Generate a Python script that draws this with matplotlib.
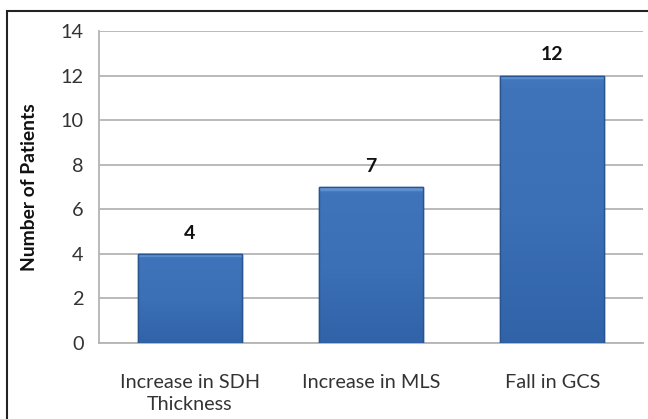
import numpy as np
import matplotlib
matplotlib.use("Agg")
import matplotlib.pyplot as plt
from matplotlib.patches import Rectangle
from matplotlib.colors import LinearSegmentedColormap

plt.rcParams["font.family"] = ["Lato", "DejaVu Sans"]

categories = ["Increase in SDH\nThickness", "Increase in MLS", "Fall in GCS"]
patients = [4, 7, 12]
yticks = [0, 2, 4, 6, 8, 10, 12, 14]

fig = plt.figure(figsize=(6.48, 4.19), dpi=100)
ax = fig.add_axes([0.1528, 0.1814, 0.8395, 0.7446])

# outer frame (only top/left edges show in the crop)
fig.patches.append(Rectangle((0.0108, -0.1), 1.2, 0.1 + 0.974, transform=fig.transFigure,
                             fill=False, ec="#222222", lw=1.5))

x = range(len(categories))
bars = ax.bar(x, patients, width=0.575, color="#3c70b6", edgecolor="#2a5490", lw=1.0, zorder=3)
# bevel-ish vertical gradient clipped to each bar, fixed-height light band on top
cm = LinearSegmentedColormap.from_list("bev", ["#3063a8", "#3b6fb6", "#3f74bb", "#6d9fdc"])
for b in bars:
    x0, w, h = b.get_x(), b.get_width(), b.get_height()
    t = np.linspace(0, 1, 512).reshape(-1, 1)
    band = 1 - 0.18 / h
    grad = np.where(t > band, 0.85 + 0.15 * (t - band) / (1 - band), t * 0.7)
    im = ax.imshow(grad, cmap=cm, vmin=0, vmax=1, extent=[x0, x0 + w, 0, h], origin="lower",
                   aspect="auto", zorder=3.5)
    im.set_clip_path(b)
    ax.add_patch(Rectangle((x0, 0), w, h, fill=False, ec="#2a5490", lw=1.0, zorder=4))
ax.set_aspect("auto")

for b, v in zip(bars, patients):
    ax.annotate(str(v), (b.get_x() + b.get_width() / 2, v), xytext=(0, 15), textcoords="offset points",
                ha="center", va="center", fontsize=14, fontweight="bold", color="#111111")

ax.set_xlim(-0.5, len(categories) - 0.5)
ax.set_ylim(0, 14)
ax.set_yticks(yticks)
ax.yaxis.grid(True, color="#b4b4b4", lw=1.3, zorder=0)
ax.set_axisbelow(True)
for s in ["top", "right"]:
    ax.spines[s].set_visible(False)
for s in ["left", "bottom"]:
    ax.spines[s].set_color("#b4b4b4")
    ax.spines[s].set_linewidth(1.3)
ax.tick_params(axis="y", length=0, pad=11, labelsize=14.3, labelcolor="#333333")
ax.tick_params(axis="x", length=0, pad=22, labelsize=14.3, labelcolor="#333333")
ax.set_xticks(list(x))
ax.set_xticklabels(categories, linespacing=1.4)
ax.set_ylabel("Number of Patients", fontsize=13.9, fontweight="bold", color="#111111", labelpad=16)

fig.savefig("out.png", dpi=100)
